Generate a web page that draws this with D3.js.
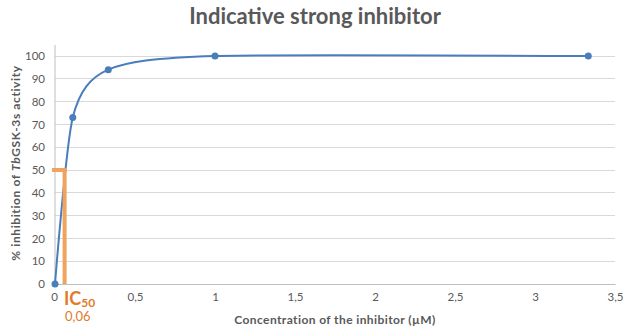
<!DOCTYPE html>
<html><head><meta charset="utf-8">
<script src="https://cdn.jsdelivr.net/npm/d3@7"></script>
<style>body{margin:0;background:#fff}svg{display:block}text{font-family:Lato,"Open Sans",sans-serif}</style>
</head><body><svg id="c" width="626" height="332"></svg>
<script>
const concentrations = [0, 0.111, 0.333, 1, 3.333];
const inhibition = [0, 73, 94, 100, 100];
const xTicks = [0, 0.5, 1, 1.5, 2, 2.5, 3, 3.5];
const yTicks = [0, 10, 20, 30, 40, 50, 60, 70, 80, 90, 100];
const ic50 = 0.06;
const ic50Level = 50;

const svg = d3.select("#c");
const x = d3.scaleLinear().domain([0, 3.5]).range([55, 615]);
const y = d3.scaleLinear().domain([0, 100]).range([284, 56]);
const fmt = d => String(d).replace(".", ",");
const gray = "#595959";

// gridlines
svg.append("g").selectAll("line").data(yTicks.filter(d => d > 0)).join("line")
  .attr("x1", x(0)).attr("x2", x(3.5)).attr("y1", d => y(d)).attr("y2", d => y(d))
  .attr("stroke", "#d9d9d9").attr("stroke-width", 1).attr("shape-rendering", "crispEdges");

// axes
const xAxis = svg.append("g").attr("transform", `translate(0,${y(0)})`)
  .call(d3.axisBottom(x).tickValues(xTicks).tickFormat(fmt).tickSize(0).tickPadding(9));
xAxis.select(".domain").attr("stroke", "#bfbfbf");
const yAxis = svg.append("g").attr("transform", `translate(${x(0)},0)`)
  .call(d3.axisLeft(y).tickValues(yTicks).tickSize(0).tickPadding(10));
yAxis.select(".domain").attr("stroke", "#bfbfbf").attr("d", `M0,${y(0)}V45`);
svg.selectAll(".tick text").attr("fill", gray).attr("font-size", 11.5);
xAxis.selectAll(".tick").filter(d => d === 0).select("text").attr("dx", -1);

// curve
const pts = concentrations.map((c, i) => [c, inhibition[i]]);
svg.append("path").datum(pts)
  .attr("d", d3.line().x(d => x(d[0])).y(d => y(d[1])).curve(d3.curveCardinal.tension(0.25)))
  .attr("fill", "none").attr("stroke", "#4a7ebb").attr("stroke-width", 2);
svg.append("g").selectAll("circle").data(pts).join("circle")
  .attr("cx", d => x(d[0])).attr("cy", d => y(d[1])).attr("r", 3.5).attr("fill", "#4a7ebb");

// IC50 marker
const orange = "#f0a35e";
svg.append("path")
  .attr("d", `M${x(0) - 3},${y(ic50Level)}H${x(ic50)}V${y(0)}`)
  .attr("fill", "none").attr("stroke", orange).attr("stroke-width", 4);

const icText = svg.append("text").attr("x", 64).attr("y", 305).attr("fill", "#e07b2a").attr("font-weight", "bold");
icText.append("tspan").attr("font-size", 18).text("IC");
icText.append("tspan").attr("font-size", 12).attr("dy", 2).text("50");
svg.append("text").attr("x", 65).attr("y", 321).attr("fill", "#e07b2a").attr("font-size", 13).text(fmt(ic50));

// titles
svg.append("text").attr("x", 315).attr("y", 24).attr("text-anchor", "middle")
  .attr("font-size", 22).attr("font-weight", "bold").attr("fill", gray).text("Indicative strong inhibitor");
svg.append("text").attr("x", 335).attr("y", 324).attr("text-anchor", "middle")
  .attr("font-size", 12).attr("letter-spacing", 0.4).attr("font-weight", "bold").attr("fill", gray).text("Concentration of the inhibitor (µM)");
const yt = svg.append("text").attr("transform", "translate(20,163) rotate(-90)").attr("text-anchor", "middle")
  .attr("font-size", 12).attr("letter-spacing", 0.6).attr("font-weight", "bold").attr("fill", gray);
yt.append("tspan").text("% inhibition of ");
yt.append("tspan").attr("font-style", "italic").text("Tb");
yt.append("tspan").text("GSK-3s activity");
</script></body></html>
